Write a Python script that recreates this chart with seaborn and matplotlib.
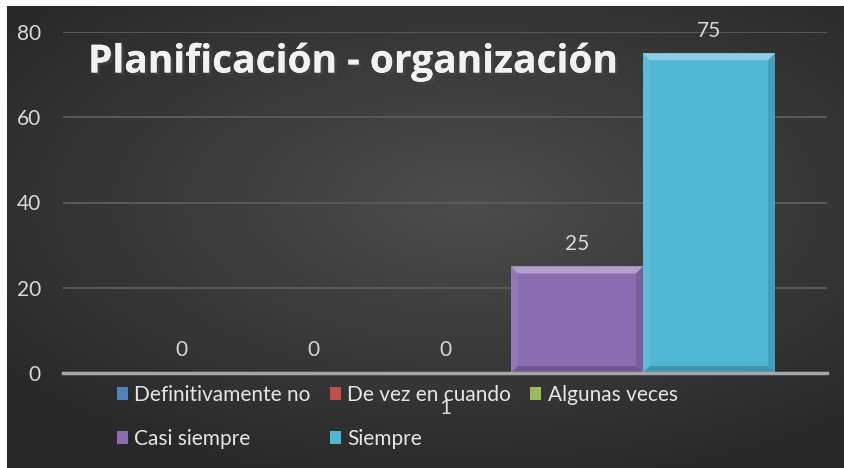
import matplotlib
matplotlib.use("Agg")
import matplotlib.pyplot as plt
import matplotlib.patheffects as pe
from matplotlib.patches import Polygon
import numpy as np
import pandas as pd
import seaborn as sns

# ── Data ─────────────────────────────────────────────────────────────
categorias = ["1"]
respuestas = ["Definitivamente no", "De vez en cuando", "Algunas veces",
              "Casi siempre", "Siempre"]
valores = [0, 0, 0, 25, 75]
colores = ["#4f81bd", "#c0504d", "#9bbb59", "#8a6db0", "#4fb6d3"]
titulo = "Planificación - organización"

df = pd.DataFrame({"grupo": categorias * len(respuestas),
                   "respuesta": respuestas,
                   "valor": valores})

# ── Figure ───────────────────────────────────────────────────────────
sns.set_theme(style="dark")
plt.rcParams["font.family"] = ["Lato", "DejaVu Sans"]
W, H = 844, 468
fig = plt.figure(figsize=(W / 100, H / 100), dpi=100)
fig.patch.set_facecolor("white")

# dark radial background
bg = fig.add_axes([7 / W, 0, (W - 7) / W, (H - 6) / H])
yy, xx = np.mgrid[-1:1:300j, -1:1:500j]
r = np.sqrt(((xx - 0.1) * 0.9) ** 2 + ((yy + 0.15) * 1.0) ** 2)
img = np.clip(1 - r / 1.25, 0, 1)
shade = 0.16 + 0.14 * img
bg.imshow(np.dstack([shade, shade, shade]), aspect="auto", extent=[0, 1, 0, 1])
bg.set_axis_off()

ax = fig.add_axes([63 / W, 1 - 373 / H, (827 - 63) / W, (373 - 32) / H])
ax.set_facecolor("none")
sns.barplot(data=df, x="grupo", y="valor", hue="respuesta", palette=colores,
            width=0.864, gap=0, ax=ax, legend=True, saturation=1,
            edgecolor="none", linewidth=0)

ax.set_ylim(0, 80)
ax.set_yticks([0, 20, 40, 60, 80])
ax.set_xlabel("")
ax.set_ylabel("")
for s in ["top", "right", "left"]:
    ax.spines[s].set_visible(False)
ax.spines["bottom"].set_color("#a6a6a6")
ax.spines["bottom"].set_linewidth(2.5)
ax.grid(axis="y", color="#5c5c5c", linewidth=1.3)
ax.set_axisbelow(True)
ax.tick_params(axis="y", colors="#d9d9d9", labelsize=15, length=0, pad=16)
ax.tick_params(axis="x", colors="#d9d9d9", labelsize=15, length=0, pad=18)

# bevel highlight on bars
fig.canvas.draw()
to_data = ax.transData.inverted()
for cont in ax.containers:
    for p in cont.patches:
        if p.get_height() <= 0:
            continue
        x0, y0 = p.get_x(), p.get_y()
        x1, y1 = x0 + p.get_width(), y0 + p.get_height()
        (px0, py0), (px1, py1) = ax.transData.transform([(x0, y0), (x1, y1)])
        b = 7
        top = to_data.transform([(px0, py1), (px1, py1), (px1 - b, py1 - b), (px0 + b, py1 - b)])
        ax.add_patch(Polygon(top, closed=True, facecolor="white", alpha=0.35, lw=0))
        left = to_data.transform([(px0, py1), (px0 + b, py1 - b), (px0 + b, py0 + b), (px0, py0)])
        ax.add_patch(Polygon(left, closed=True, facecolor="white", alpha=0.08, lw=0))
        right = to_data.transform([(px1, py1), (px1 - b, py1 - b), (px1 - b, py0 + b), (px1, py0)])
        ax.add_patch(Polygon(right, closed=True, facecolor="black", alpha=0.12, lw=0))
        bot = to_data.transform([(px0, py0), (px0 + b, py0 + b), (px1 - b, py0 + b), (px1, py0)])
        ax.add_patch(Polygon(bot, closed=True, facecolor="black", alpha=0.18, lw=0))

for cont in ax.containers:
    ax.bar_label(cont, fmt="%g", padding=9, color="#d9d9d9", fontsize=15)

# legend, filled row by row (3 columns)
handles, labels = ax.get_legend_handles_labels()
ax.get_legend().remove()
order = [0, 3, 1, 4, 2]
leg = fig.legend([handles[i] for i in order], [labels[i] for i in order],
                 ncol=3, loc="upper left",
                 bbox_to_anchor=(98 / W, 1 - 366 / H), frameon=False,
                 fontsize=15, labelcolor="#e6e6e6", handlelength=0.55,
                 handleheight=0.55, handletextpad=0.3, columnspacing=0.9,
                 labelspacing=1.15)

fig.text(88 / W, 1 - 62 / H, titulo, color="#f2f2f2", fontsize=28,
         fontweight="bold", va="center", family=["Open Sans", "DejaVu Sans"],
         path_effects=[pe.withSimplePatchShadow(offset=(2, -2), alpha=0.6),
                       pe.Normal()])

fig.savefig("out.png", dpi=100)
